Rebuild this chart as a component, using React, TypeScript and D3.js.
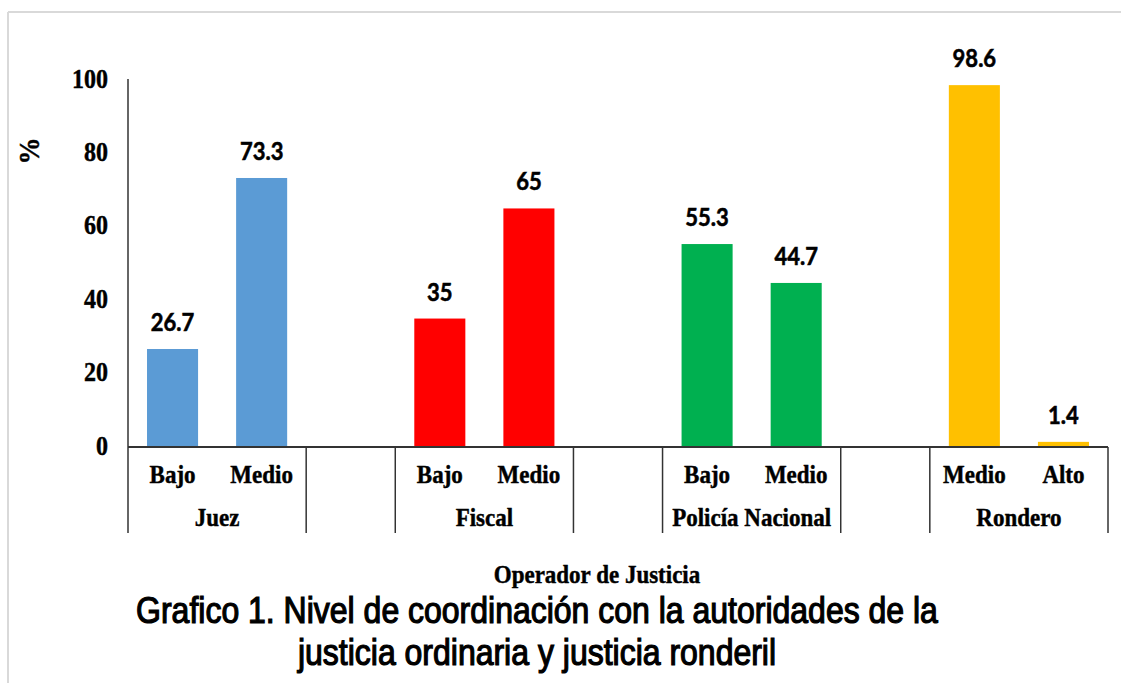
import React from "react";
import * as d3 from "d3";

const groups = ["Juez", "Fiscal", "Policía Nacional", "Rondero"];
const levels = [["Bajo", "Medio"], ["Bajo", "Medio"], ["Bajo", "Medio"], ["Medio", "Alto"]];
const values = [[26.7, 73.3], [35, 65], [55.3, 44.7], [98.6, 1.4]];
const colors = ["#5B9BD5", "#FF0000", "#00B050", "#FFC000"];
const yTicks = [0, 20, 40, 60, 80, 100];
const xTitle = "Operador de Justicia";
const yTitle = "%";
const titleLines = [
  "Grafico 1. Nivel de coordinación con la autoridades de la",
  "justicia ordinaria y justicia ronderil",
];

const W = 1121, H = 683;
const left = 128, right = 1108, top = 80, bottom = 447;
const SY = 1.13;
const serif = "'Liberation Serif', 'Times New Roman', serif";
const sans = "Lato, 'Open Sans', sans-serif";
const arial = "'Liberation Sans', Arial, sans-serif";

function T({ x, y, size, family, weight = "bold", anchor = "middle", sy = SY, rotate = 0, stroke = 0, children }: any) {
  return (
    <text
      transform={`translate(${x},${y}) rotate(${rotate}) scale(1,${sy})`}
      fontSize={size}
      fontFamily={family}
      fontWeight={weight}
      textAnchor={anchor}
      fill="#000"
      stroke={stroke ? "#000" : "none"}
      strokeWidth={stroke}
    >
      {children}
    </text>
  );
}

export default function App() {
  const nSlots = groups.length * 3 - 1;
  const slots = d3.range(nSlots);
  const x = d3.scaleBand<number>().domain(slots).range([left, right]).padding(0);
  const y = d3.scaleLinear().domain([0, 100]).range([bottom, top]);
  const bw = x.bandwidth();
  const barW = bw * 0.573;

  const bars: any[] = [];
  const dividers: number[] = [];
  groups.forEach((g, gi) => {
    const s0 = gi * 3;
    dividers.push(x(s0)!, x(s0 + 1)! + bw);
    values[gi].forEach((v, li) => {
      const s = s0 + li;
      bars.push({ gi, li, v, cx: x(s)! + bw / 2, label: levels[gi][li] });
    });
  });

  return (
    <svg width={W} height={H} style={{ position: "absolute", left: 0, top: 0, background: "#fff" }}>
      <rect x={0} y={0} width={W} height={H} fill="#fff" />
      <line x1={8} y1={12} x2={W} y2={12} stroke="#d9d9d9" strokeWidth={2} />
      <line x1={8} y1={12} x2={8} y2={H} stroke="#d9d9d9" strokeWidth={2} />

      {bars.map((b, i) => (
        <rect
          key={i}
          x={b.cx - barW / 2}
          y={y(b.v)}
          width={barW}
          height={bottom - y(b.v)}
          fill={colors[b.gi]}
        />
      ))}

      {bars.map((b, i) => (
        <T key={"v" + i} x={b.cx} y={y(b.v) - 18} size={22} family={sans} stroke={0.5}>
          {String(b.v)}
        </T>
      ))}

      {/* y axis */}
      <line x1={left} y1={top - 1} x2={left} y2={bottom} stroke="#333" strokeWidth={1.5} />
      {yTicks.map((t) => (
        <T key={t} x={108} y={y(t) + 7.5} size={24} family={serif} anchor="end" stroke={0.4}>
          {t}
        </T>
      ))}
      <T x={39} y={151} size={27} family={serif} rotate={-90} stroke={0.4}>
        {yTitle}
      </T>

      {/* x axis */}
      <line x1={left} y1={bottom} x2={right} y2={bottom} stroke="#333" strokeWidth={2} />
      {dividers.map((d, i) => (
        <line key={"d" + i} x1={d} y1={bottom} x2={d} y2={533} stroke="#333" strokeWidth={1.5} />
      ))}
      {bars.map((b, i) => (
        <T key={"l" + i} x={b.cx} y={483} size={23} family={serif} stroke={0.4}>
          {b.label}
        </T>
      ))}
      {groups.map((g, gi) => (
        <T key={g} x={x(gi * 3)! + bw} y={526} size={23} family={serif} stroke={0.4}>
          {g}
        </T>
      ))}

      <T x={597} y={583} size={23} family={serif} stroke={0.4}>
        {xTitle}
      </T>
      {titleLines.map((l, i) => (
        <T key={i} x={537} y={623 + i * 42} size={32} family={arial} weight="normal" stroke={1.1}>
          {l}
        </T>
      ))}
    </svg>
  );
}
